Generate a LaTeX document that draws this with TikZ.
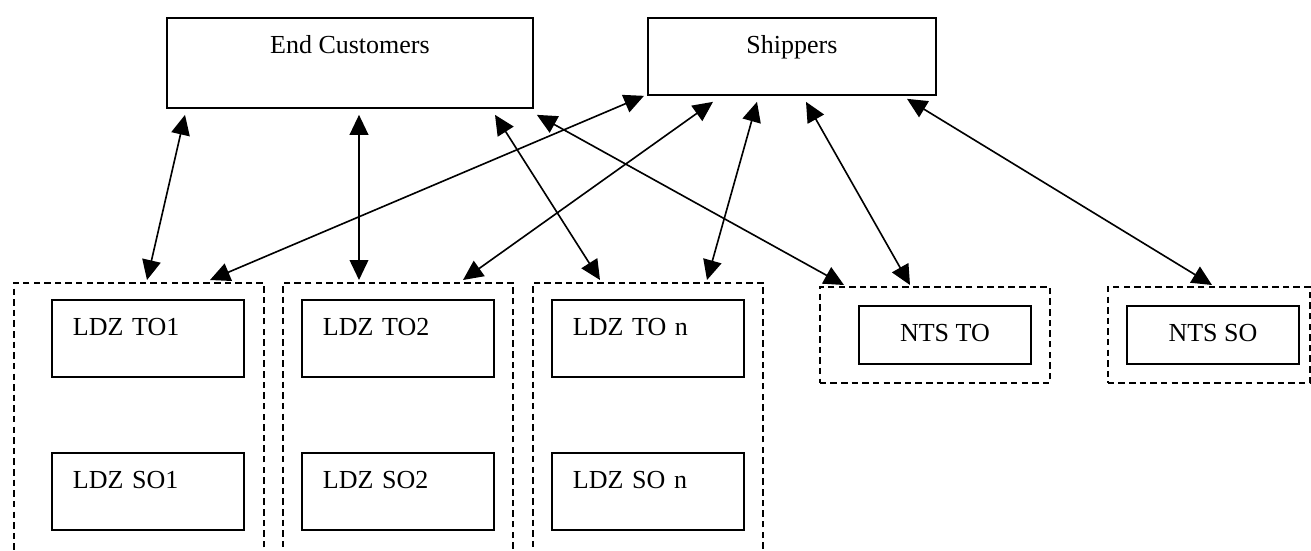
\documentclass[tikz,border=0pt]{standalone}
\usepackage{fontspec}
\setmainfont{Liberation Serif}
\usetikzlibrary{arrows.meta}
\def\px{0.4615pt}

\begin{document}
\begin{tikzpicture}[x=\px,y=-\px,
    font=\fontsize{12}{14}\selectfont,
    >={Triangle[length=9.2pt,width=8.6pt]},
    box/.style={draw,line width=0.85pt,anchor=north west,inner sep=0pt,text height=36*\px},
    ldz/.style={box,text width=150*\px,inner xsep=21*\px,align=left,text depth=41*\px},
    nts/.style={box,minimum width=172*\px,text depth=22*\px},
    grp/.style={draw,line width=0.8pt,dash pattern=on 3pt off 1.9pt,anchor=north west,inner sep=0pt},
    link/.style={<->,line width=0.75pt}
  ]
  \useasboundingbox (0,0) rectangle (1311,550);
  \node [box,minimum width=366*\px,text depth=54*\px] (ec) at (166,17) {End Customers};
  \node [box,minimum width=288*\px,text depth=41*\px] (sh) at (647,17) {Shippers};
  % LDZ groups, a TO box above an SO box
  \foreach \i/\gx/\gw/\bx/\lab in {1/13/250/51/1,2/282/230/301/2,3/532/230/551/~n} {
    \node [grp,minimum width=\gw*\px,minimum height=280*\px] (g\i) at (\gx,282) {};
    \node [ldz] (to\i) at (\bx,299) {LDZ TO\lab};
    \node [ldz] (so\i) at (\bx,452) {LDZ SO\lab};
  }
  \node [grp,minimum width=230*\px,minimum height=96*\px] (gt) at (819,286) {};
  \node [nts] (nto) at (858,305) {NTS TO};
  \node [grp,minimum width=202*\px,minimum height=96*\px] (gs) at (1107,286) {};
  \node [nts] (nso) at (1126,305) {NTS SO};
  % end customers links
  \draw [link] ([xshift=19*\px,yshift=-6*\px]ec.south west) -- ([xshift=134*\px,yshift=2*\px]g1.north west);
  \draw [link] ([xshift=193*\px,yshift=-6*\px]ec.south west) -- ([xshift=77*\px,yshift=2*\px]g2.north west);
  \draw [link] ([xshift=329*\px,yshift=-6*\px]ec.south west) -- ([xshift=68*\px,yshift=2*\px]g3.north west);
  \draw [link] ([xshift=3*\px,yshift=-6*\px]ec.south east) -- ([xshift=25*\px,yshift=1*\px]gt.north west);
  % shippers links
  \draw [link] ([xshift=-3*\px]sh.south west) -- ([xshift=197*\px,yshift=2*\px]g1.north west);
  \draw [link] ([xshift=66*\px,yshift=-6*\px]sh.south west) -- ([xshift=181*\px,yshift=2*\px]g2.north west);
  \draw [link] ([xshift=110*\px,yshift=-6*\px]sh.south west) -- ([xshift=175*\px,yshift=2*\px]g3.north west);
  \draw [link] ([xshift=159*\px,yshift=-6*\px]sh.south west) -- ([xshift=91*\px,yshift=1*\px]gt.north west);
  \draw [link] ([xshift=260*\px,yshift=-3*\px]sh.south west) -- ([xshift=105*\px,yshift=1*\px]gs.north west);
\end{tikzpicture}
\end{document}
